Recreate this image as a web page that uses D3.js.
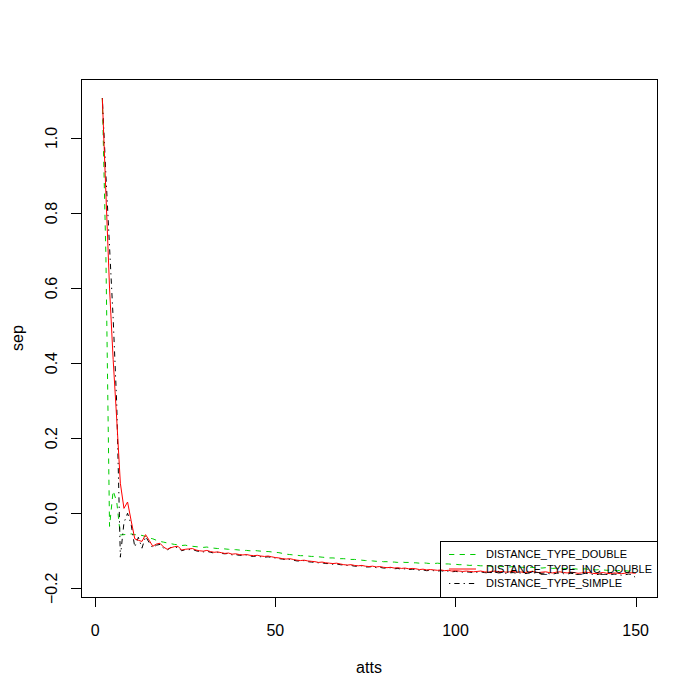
<!DOCTYPE html>
<html>
<head>
<meta charset="utf-8">
<script src="https://cdn.jsdelivr.net/npm/d3@7"></script>
<style>
  body { margin: 0; background: #fff; }
  svg { display: block; font-family: "Liberation Sans", Arial, sans-serif; }
</style>
</head>
<body>
<svg id="chart" width="700" height="700"></svg>
<script>
// atts runs from 2 to 150
const atts = d3.range(2, 151);

const sepDouble = [
  1.106, 0.68, -0.035, 0.06, 0.03, -0.058, -0.057, -0.056, -0.055, -0.057,
  -0.058, -0.059, -0.062, -0.066, -0.068, -0.072, -0.075, -0.077, -0.079, -0.081,
  -0.083, -0.084, -0.086, -0.085, -0.087, -0.088, -0.089, -0.090, -0.091, -0.090,
  -0.092, -0.093, -0.094, -0.094, -0.095, -0.096, -0.097, -0.097, -0.098, -0.099,
  -0.099, -0.100, -0.099, -0.100, -0.101, -0.102, -0.102, -0.103, -0.104, -0.105,
  -0.107, -0.109, -0.110, -0.111, -0.112, -0.113, -0.113, -0.114, -0.115, -0.115,
  -0.116, -0.117, -0.118, -0.119, -0.119, -0.120, -0.121, -0.121, -0.122, -0.123,
  -0.123, -0.124, -0.125, -0.126, -0.126, -0.127, -0.128, -0.128, -0.129, -0.129,
  -0.130, -0.130, -0.131, -0.130, -0.131, -0.131, -0.132, -0.132, -0.133, -0.132,
  -0.133, -0.134, -0.134, -0.133, -0.134, -0.135, -0.135, -0.136, -0.136, -0.137,
  -0.137, -0.138, -0.139, -0.138, -0.139, -0.140, -0.140, -0.141, -0.141, -0.142,
  -0.141, -0.142, -0.143, -0.143, -0.142, -0.143, -0.144, -0.144, -0.143, -0.144,
  -0.145, -0.145, -0.146, -0.145, -0.146, -0.147, -0.146, -0.147, -0.148, -0.147,
  -0.148, -0.148, -0.149, -0.149, -0.148, -0.150, -0.150, -0.151, -0.150, -0.151,
  -0.152, -0.151, -0.152, -0.153, -0.152, -0.153, -0.154, -0.153, -0.154
];

const sepIncDouble = [
  1.106, 0.85, 0.60, 0.41, 0.25, 0.08, 0.013, 0.03, -0.02, -0.068,
  -0.072, -0.075, -0.057, -0.072, -0.088, -0.082, -0.080, -0.090, -0.096, -0.092,
  -0.089, -0.088, -0.098, -0.096, -0.095, -0.094, -0.098, -0.100, -0.101, -0.099,
  -0.102, -0.104, -0.103, -0.105, -0.107, -0.106, -0.109, -0.108, -0.110, -0.111,
  -0.110, -0.112, -0.113, -0.112, -0.114, -0.115, -0.114, -0.116, -0.118, -0.119,
  -0.121, -0.122, -0.121, -0.123, -0.125, -0.126, -0.125, -0.127, -0.128, -0.129,
  -0.131, -0.130, -0.132, -0.133, -0.134, -0.133, -0.135, -0.137, -0.138, -0.137,
  -0.139, -0.140, -0.139, -0.141, -0.142, -0.141, -0.143, -0.142, -0.144, -0.145,
  -0.144, -0.146, -0.145, -0.147, -0.146, -0.148, -0.147, -0.148, -0.150, -0.149,
  -0.151, -0.150, -0.151, -0.152, -0.151, -0.153, -0.152, -0.154, -0.153, -0.154,
  -0.155, -0.154, -0.155, -0.156, -0.155, -0.154, -0.156, -0.157, -0.155, -0.154,
  -0.156, -0.155, -0.157, -0.156, -0.155, -0.157, -0.156, -0.158, -0.157, -0.155,
  -0.156, -0.158, -0.157, -0.156, -0.158, -0.159, -0.157, -0.156, -0.158, -0.159,
  -0.157, -0.158, -0.160, -0.159, -0.157, -0.158, -0.160, -0.161, -0.159, -0.158,
  -0.160, -0.161, -0.159, -0.160, -0.161, -0.160, -0.158, -0.159, -0.160
];

const sepSimple = [
  1.106, 0.90, 0.71, 0.52, 0.29, -0.117, -0.025, 0.0, -0.03, -0.09,
  -0.064, -0.093, -0.062, -0.078, -0.092, -0.085, -0.083, -0.093, -0.098, -0.091,
  -0.092, -0.090, -0.100, -0.097, -0.097, -0.096, -0.100, -0.102, -0.103, -0.101,
  -0.104, -0.106, -0.104, -0.107, -0.108, -0.107, -0.111, -0.110, -0.112, -0.112,
  -0.111, -0.114, -0.115, -0.113, -0.116, -0.117, -0.116, -0.118, -0.119, -0.121,
  -0.122, -0.124, -0.123, -0.125, -0.127, -0.127, -0.126, -0.129, -0.130, -0.131,
  -0.132, -0.132, -0.134, -0.134, -0.136, -0.135, -0.137, -0.138, -0.139, -0.139,
  -0.141, -0.141, -0.140, -0.143, -0.143, -0.142, -0.145, -0.144, -0.146, -0.146,
  -0.145, -0.148, -0.147, -0.149, -0.148, -0.150, -0.149, -0.150, -0.152, -0.151,
  -0.153, -0.152, -0.153, -0.154, -0.153, -0.155, -0.154, -0.156, -0.155, -0.156,
  -0.157, -0.156, -0.157, -0.158, -0.157, -0.156, -0.158, -0.159, -0.158, -0.157,
  -0.159, -0.158, -0.160, -0.159, -0.158, -0.160, -0.159, -0.161, -0.160, -0.158,
  -0.159, -0.161, -0.160, -0.159, -0.161, -0.162, -0.160, -0.159, -0.161, -0.162,
  -0.160, -0.161, -0.163, -0.162, -0.160, -0.161, -0.163, -0.164, -0.162, -0.161,
  -0.163, -0.164, -0.162, -0.163, -0.165, -0.164, -0.162, -0.163, -0.172
];

const seriesNames = ["DISTANCE_TYPE_DOUBLE", "DISTANCE_TYPE_INC_DOUBLE", "DISTANCE_TYPE_SIMPLE"];
const seriesColors = ["#00cd00", "#ff0000", "#000000"];
const seriesDash = ["5.3,5.3", null, "1.3,4,5.3,4"];
const xTicks = [0, 50, 100, 150];
const yTicks = [-0.2, 0, 0.2, 0.4, 0.6, 0.8, 1.0];

const box = { left: 81, right: 657, top: 79, bottom: 597 };

// R style 4% padding around the data range
function pad(ext) {
  const d = (ext[1] - ext[0]) * 0.04;
  return [ext[0] - d, ext[1] + d];
}

const allY = sepDouble.concat(sepIncDouble, sepSimple);
const x = d3.scaleLinear().domain(pad(d3.extent(atts))).range([box.left, box.right]);
const y = d3.scaleLinear().domain(pad(d3.extent(allY))).range([box.bottom, box.top]);

const svg = d3.select("#chart");

// plot box
svg.append("rect")
  .attr("x", box.left + 0.5)
  .attr("y", box.top + 0.5)
  .attr("width", box.right - box.left)
  .attr("height", box.bottom - box.top)
  .attr("fill", "none")
  .attr("stroke", "#000")
  .attr("stroke-width", 1);

// x axis
const xAxis = svg.append("g");
xAxis.selectAll("line")
  .data(xTicks)
  .join("line")
  .attr("x1", (d) => Math.round(x(d)) + 0.5)
  .attr("x2", (d) => Math.round(x(d)) + 0.5)
  .attr("y1", box.bottom)
  .attr("y2", box.bottom + 10)
  .attr("stroke", "#000");
xAxis.selectAll("text")
  .data(xTicks)
  .join("text")
  .attr("x", (d) => x(d))
  .attr("y", 636)
  .attr("text-anchor", "middle")
  .attr("font-size", 16)
  .text((d) => d);

// y axis
const yAxis = svg.append("g");
yAxis.selectAll("line")
  .data(yTicks)
  .join("line")
  .attr("x1", box.left - 10)
  .attr("x2", box.left)
  .attr("y1", (d) => Math.round(y(d)) + 0.5)
  .attr("y2", (d) => Math.round(y(d)) + 0.5)
  .attr("stroke", "#000");
yAxis.selectAll("text")
  .data(yTicks)
  .join("text")
  .attr("transform", (d) => `translate(57,${y(d)}) rotate(-90)`)
  .attr("text-anchor", "middle")
  .attr("font-size", 16)
  .text((d) => d3.format(".1f")(d));

// axis titles
svg.append("text")
  .attr("x", (box.left + box.right) / 2)
  .attr("y", 673)
  .attr("text-anchor", "middle")
  .attr("font-size", 16)
  .text("atts");
svg.append("text")
  .attr("transform", `translate(23,${(box.top + box.bottom) / 2}) rotate(-90)`)
  .attr("text-anchor", "middle")
  .attr("font-size", 16)
  .text("sep");

// lines
const line = d3.line()
  .x((d, i) => x(atts[i]))
  .y((d) => y(d));

const seriesData = [sepDouble, sepIncDouble, sepSimple];
[0, 2, 1].forEach((k) => {
  svg.append("path")
    .datum(seriesData[k])
    .attr("fill", "none")
    .attr("stroke", seriesColors[k])
    .attr("stroke-width", 1)
    .attr("stroke-dasharray", seriesDash[k])
    .attr("d", line);
});

// legend, bottom right, no background
const leg = { left: 440, top: 541, rowY: [554.5, 569, 583.5] };
svg.append("rect")
  .attr("x", leg.left + 0.5)
  .attr("y", leg.top + 0.5)
  .attr("width", box.right - leg.left)
  .attr("height", box.bottom - leg.top)
  .attr("fill", "none")
  .attr("stroke", "#000");

const legRows = svg.append("g")
  .selectAll("g")
  .data(seriesNames)
  .join("g")
  .attr("transform", (d, i) => `translate(0,${leg.rowY[i]})`);
legRows.append("line")
  .attr("x1", 449)
  .attr("x2", 476)
  .attr("stroke", (d, i) => seriesColors[i])
  .attr("stroke-width", 1)
  .attr("stroke-dasharray", (d, i) => seriesDash[i]);
legRows.append("text")
  .attr("x", 486)
  .attr("dy", "0.36em")
  .attr("font-size", 11)
  .text((d) => d);
</script>
</body>
</html>
